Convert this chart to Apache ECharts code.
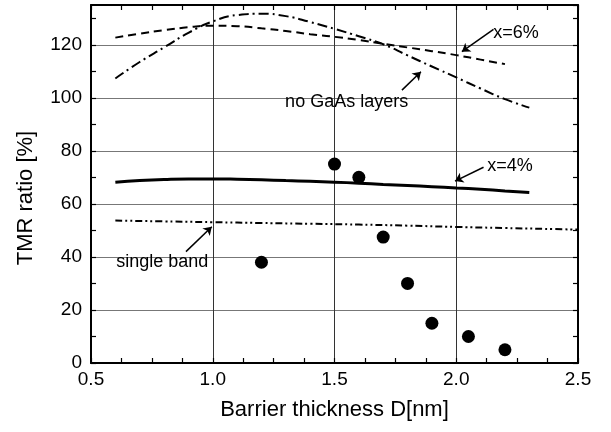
<!DOCTYPE html>
<html><head><meta charset="utf-8">
<script src="https://cdn.jsdelivr.net/npm/echarts@6/dist/echarts.min.js"></script>
<style>html,body{margin:0;padding:0;background:#fff}#c{width:611px;height:432px}</style>
</head><body><div id="c"></div>
<script>
const FONT = '"Liberation Sans", Arial, Helvetica, sans-serif';
const xTickLabels = ['0.5', '1.0', '1.5', '2.0', '2.5'];
const yTickLabels = ['0', '20', '40', '60', '80', '100', '120'];

// experimental points
const expThickness = [1.2, 1.5, 1.6, 1.7, 1.8, 1.9, 2.05, 2.2];
const expTMR = [38, 75, 70, 47.5, 30, 15, 10, 5];

// x = 6% (dashed)
const x6Thickness = [0.6, 0.7, 0.8, 0.9, 1.0, 1.1, 1.2, 1.3, 1.4, 1.5, 1.6, 1.7, 1.8, 1.9, 2.0, 2.1, 2.2];
const x6TMR = [122.7, 124.2, 125.5, 126.6, 127.2, 127.0, 126.2, 125.2, 124.0, 123.0, 121.8, 120.4, 119.0, 117.6, 116.1, 114.4, 112.7];

// no GaAs layers (dash-dot)
const noGaAsThickness = [0.6, 0.7, 0.8, 0.9, 1.0, 1.1, 1.2, 1.3, 1.4, 1.5, 1.6, 1.7, 1.8, 1.9, 2.0, 2.1, 2.2, 2.3];
const noGaAsTMR = [107.3, 113.5, 119.0, 124.5, 128.8, 131.2, 131.7, 130.8, 128.6, 126.0, 123.2, 120.2, 116.0, 111.8, 107.7, 103.5, 99.5, 96.3];

// x = 4% (solid)
const x4Thickness = [0.6, 0.7, 0.8, 0.9, 1.0, 1.1, 1.2, 1.3, 1.4, 1.5, 1.6, 1.7, 1.8, 1.9, 2.0, 2.1, 2.2, 2.3];
const x4TMR = [68.2, 68.8, 69.2, 69.4, 69.4, 69.3, 69.1, 68.8, 68.5, 68.2, 67.8, 67.3, 66.9, 66.5, 66.0, 65.5, 64.9, 64.3];

// single band (dash-dot-dot)
const singleThickness = [0.6, 0.8, 1.0, 1.2, 1.4, 1.6, 1.8, 2.0, 2.2, 2.4, 2.5];
const singleTMR = [53.7, 53.4, 53.1, 52.8, 52.5, 52.2, 51.8, 51.3, 50.9, 50.5, 50.3];

const zip = (a, b) => a.map((v, i) => [v, b[i]]);

const chart = echarts.init(document.getElementById('c'), null, {renderer: 'canvas'});

const tickStyle = {show: true, inside: true, length: 5, lineStyle: {color: '#000', width: 1.2}};
const frame = {show: true, onZero: false, lineStyle: {color: '#000', width: 2}};

const option = {
  backgroundColor: '#fff',
  animation: false,
  textStyle: {fontFamily: FONT},
  grid: {left: 91, right: 33, top: 5, bottom: 69, containLabel: false},
  xAxis: [
    {
      type: 'value', min: 0.5, max: 2.5, interval: 0.5, position: 'bottom',
      name: 'Barrier thickness D[nm]', nameLocation: 'middle', nameGap: 36,
      nameTextStyle: {fontSize: 22, color: '#000', fontFamily: FONT},
      axisLine: frame, axisTick: tickStyle,
      minorTick: {show: true, splitNumber: 4, length: 5, lineStyle: {color: '#000', width: 1.2}},
      axisLabel: {fontSize: 19, color: '#000', fontFamily: FONT, margin: 7,
        formatter: v => { const s = v.toFixed(1); return xTickLabels.includes(s) ? s : ''; }},
      splitLine: {show: true, lineStyle: {color: '#333', width: 1}}
    },
    {
      type: 'value', min: 0.5, max: 2.5, interval: 0.5, position: 'top',
      axisLine: frame, axisTick: tickStyle,
      minorTick: {show: true, splitNumber: 4, length: 5, lineStyle: {color: '#000', width: 1.2}},
      axisLabel: {show: false}, splitLine: {show: false}
    }
  ],
  yAxis: [
    {
      type: 'value', min: 0, max: 135, interval: 10, position: 'left',
      name: 'TMR ratio [%]', nameLocation: 'middle', nameGap: 54, nameRotate: 90,
      nameTextStyle: {fontSize: 22, color: '#000', fontFamily: FONT, padding: [0, 28, 0, 0]},
      axisLine: frame, axisTick: tickStyle,
      axisLabel: {fontSize: 19, color: '#000', fontFamily: FONT, margin: 9,
        showMaxLabel: false,
        formatter: v => { const s = String(Math.round(v)); return (Math.abs(v - Math.round(v)) < 1e-6 && yTickLabels.includes(s)) ? s : ''; }},
      splitLine: {show: false}
    },
    {
      type: 'value', min: 0, max: 135, interval: 10, position: 'right',
      axisLine: frame, axisTick: tickStyle,
      axisLabel: {show: false}, splitLine: {show: false}
    },
    {
      type: 'value', min: 0, max: 135, interval: 20, position: 'left',
      axisLine: {show: false}, axisTick: {show: false}, axisLabel: {show: false},
      splitLine: {show: true, lineStyle: {color: '#777', width: 1}}
    }
  ],
  series: [
    {
      name: 'x=6%', type: 'line', smooth: true, showSymbol: false, symbol: 'none',
      data: zip(x6Thickness, x6TMR),
      lineStyle: {color: '#000', width: 2, type: [8, 5]}, z: 3
    },
    {
      name: 'no GaAs layers', type: 'line', smooth: true, showSymbol: false, symbol: 'none',
      data: zip(noGaAsThickness, noGaAsTMR),
      lineStyle: {color: '#000', width: 2, type: [10, 4, 2, 4]}, z: 3
    },
    {
      name: 'x=4%', type: 'line', smooth: true, showSymbol: false, symbol: 'none',
      data: zip(x4Thickness, x4TMR),
      lineStyle: {color: '#000', width: 3, type: 'solid'}, z: 3
    },
    {
      name: 'single band', type: 'line', smooth: true, showSymbol: false, symbol: 'none',
      data: zip(singleThickness, singleTMR),
      lineStyle: {color: '#000', width: 2, type: [7, 3, 2, 3, 2, 3]}, z: 3
    },
    {
      name: 'experiment', type: 'scatter', symbol: 'circle', symbolSize: 13,
      data: zip(expThickness, expTMR),
      itemStyle: {color: '#000', opacity: 1}, z: 5
    },
    {
      name: 'arrows', type: 'lines', coordinateSystem: 'cartesian2d',
      symbol: ['none', 'arrow'], symbolSize: [0, 8],
      lineStyle: {color: '#000', width: 1.5, opacity: 1, curveness: 0},
      data: [
        {coords: [[2.153, 125.8], [2.023, 117.4]]},
        {coords: [[1.777, 102.9], [1.855, 109.8]]},
        {coords: [[2.112, 73.8], [1.995, 68.6]]},
        {coords: [[0.890, 42.0], [0.996, 51.4]]}
      ], z: 4
    },
    {
      name: 'annotations', type: 'scatter', symbolSize: 0.1,
      itemStyle: {color: 'rgba(0,0,0,0)', opacity: 1},
      label: {show: true, position: 'right', distance: 0, color: '#000', opacity: 1, fontSize: 18, fontFamily: FONT,
        formatter: p => p.data.text},
      data: [
        {value: [2.152, 124.4], text: 'x=6%'},
        {value: [1.297, 98.4], text: 'no GaAs layers'},
        {value: [2.127, 74.3], text: 'x=4%'},
        {value: [0.603, 38.1], text: 'single band'}
      ], z: 6
    }
  ]
};
chart.setOption(option);
</script>
</body></html>
